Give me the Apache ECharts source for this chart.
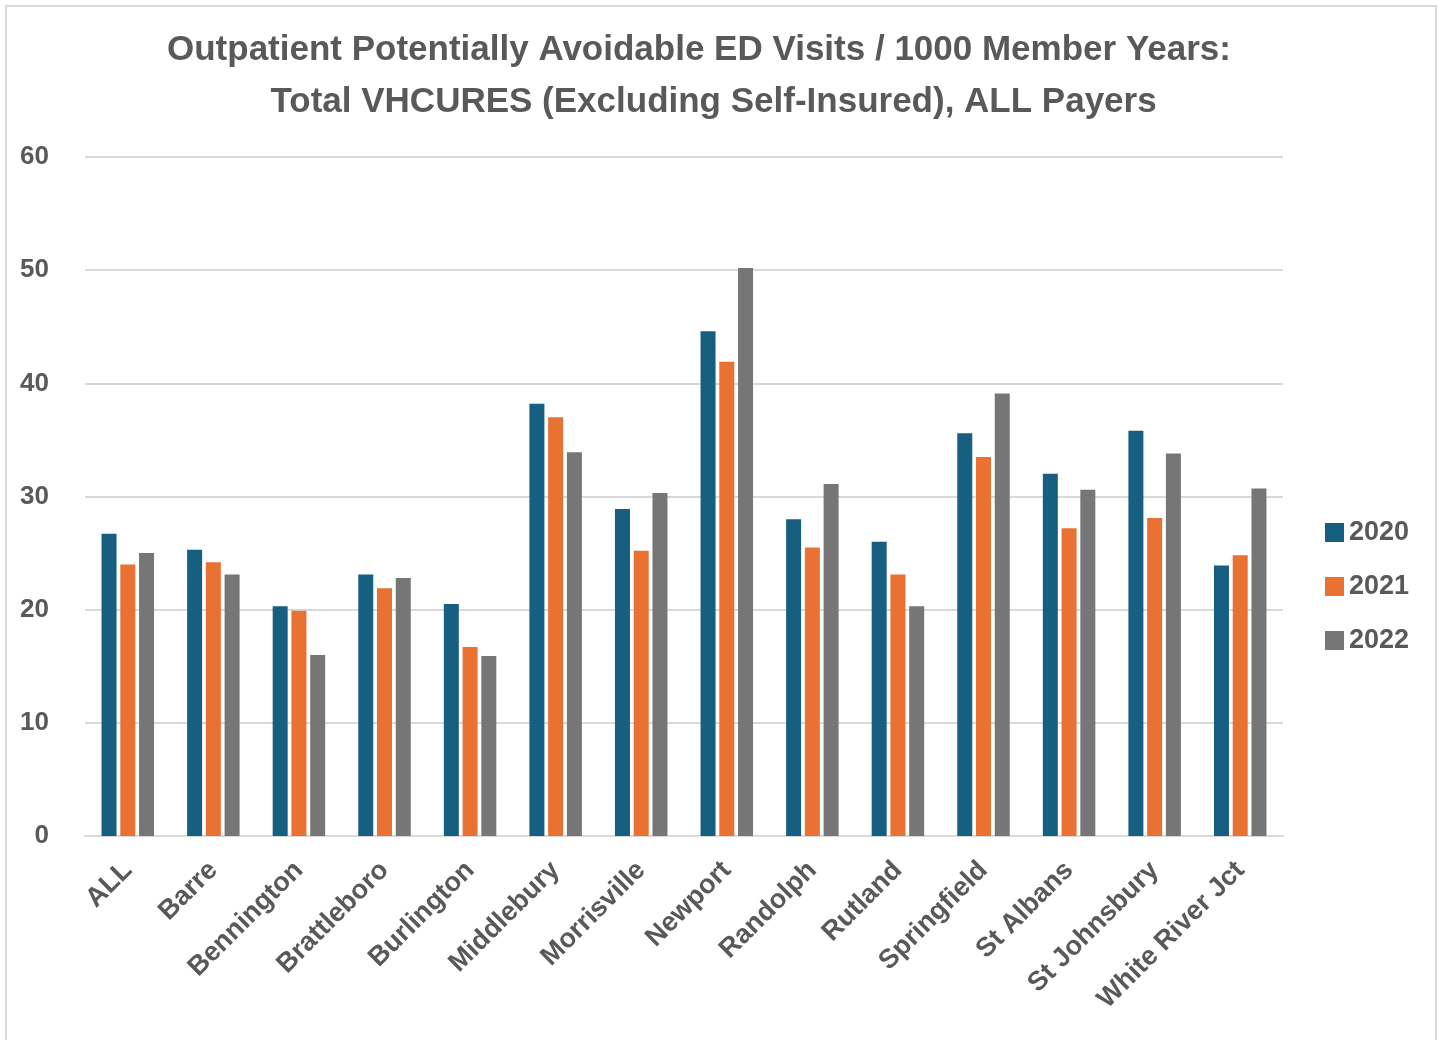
<!DOCTYPE html>
<html>
<head>
<meta charset="utf-8">
<script src="https://cdn.jsdelivr.net/npm/echarts@6/dist/echarts.min.js"></script>
<style>
  html, body { margin: 0; padding: 0; background: #fff; }
  #frame { position: absolute; left: 5px; top: 5px; width: 1432px; height: 1045px; border: 2px solid #d9d9d9; box-sizing: border-box; }
  #chart { position: absolute; left: 0; top: 0; width: 1443px; height: 1040px; }
</style>
</head>
<body>
<div id="frame"></div>
<div id="chart"></div>
<script>
// Regions shown along the x axis
const regions = ['ALL', 'Barre', 'Bennington', 'Brattleboro', 'Burlington', 'Middlebury',
  'Morrisville', 'Newport', 'Randolph', 'Rutland', 'Springfield', 'St Albans',
  'St Johnsbury', 'White River Jct'];

// Potentially avoidable ED visits per 1000 member years, by year
const visits2020 = [26.7, 25.3, 20.3, 23.1, 20.5, 38.2, 28.9, 44.6, 28.0, 26.0, 35.6, 32.0, 35.8, 23.9];
const visits2021 = [24.0, 24.2, 19.9, 21.9, 16.7, 37.0, 25.2, 41.9, 25.5, 23.1, 33.5, 27.2, 28.1, 24.8];
const visits2022 = [25.0, 23.1, 16.0, 22.8, 15.9, 33.9, 30.3, 50.2, 31.1, 20.3, 39.1, 30.6, 33.8, 30.7];

const yearNames = ['2020', '2021', '2022'];
const yTicks = { min: 0, max: 60, interval: 10 };

const FONT = "'Liberation Sans Narrow', 'Arial Narrow', 'Liberation Sans', sans-serif";
const TEXT = '#595959';
const colors = ['#175f81', '#e97132', '#767676'];

const chart = echarts.init(document.getElementById('chart'), null, { renderer: 'canvas' });

const seriesData = [visits2020, visits2021, visits2022];

chart.setOption({
  animation: false,
  color: colors,
  title: {
    text: 'Outpatient Potentially Avoidable ED Visits / 1000 Member Years:\n   Total VHCURES (Excluding Self-Insured), ALL Payers',
    left: 694,
    top: 19,
    textAlign: 'center',
    textStyle: {
      fontFamily: FONT, fontSize: 35, fontWeight: 'bold', color: TEXT, lineHeight: 52
    }
  },
  legend: {
    orient: 'vertical',
    left: 1320,
    top: 514,
    itemWidth: 19,
    itemHeight: 19,
    itemGap: 27,
    icon: 'rect',
    data: yearNames,
    textStyle: { fontFamily: FONT, fontSize: 27, fontWeight: 'bold', color: TEXT }
  },
  grid: { left: 85, right: 160, top: 157, bottom: 204, containLabel: false },
  xAxis: {
    type: 'category',
    data: regions,
    axisLine: { show: true, lineStyle: { color: '#d9d9d9', width: 2 } },
    axisTick: { show: false },
    axisLabel: {
      rotate: 45,
      interval: 0,
      margin: 30,
      fontFamily: FONT, fontSize: 27, fontWeight: 'bold', color: TEXT
    }
  },
  yAxis: {
    type: 'value',
    min: yTicks.min,
    max: yTicks.max,
    interval: yTicks.interval,
    axisLine: { show: false },
    axisTick: { show: false },
    splitLine: { lineStyle: { color: '#d9d9d9', width: 2 } },
    axisLabel: {
      margin: 36,
      fontFamily: FONT, fontSize: 26, fontWeight: 'bold', color: TEXT
    }
  },
  series: yearNames.map((name, i) => ({
    name,
    type: 'bar',
    data: seriesData[i],
    barWidth: 15,
    barGap: '25%',
    itemStyle: { color: colors[i] }
  }))
});
</script>
</body>
</html>
